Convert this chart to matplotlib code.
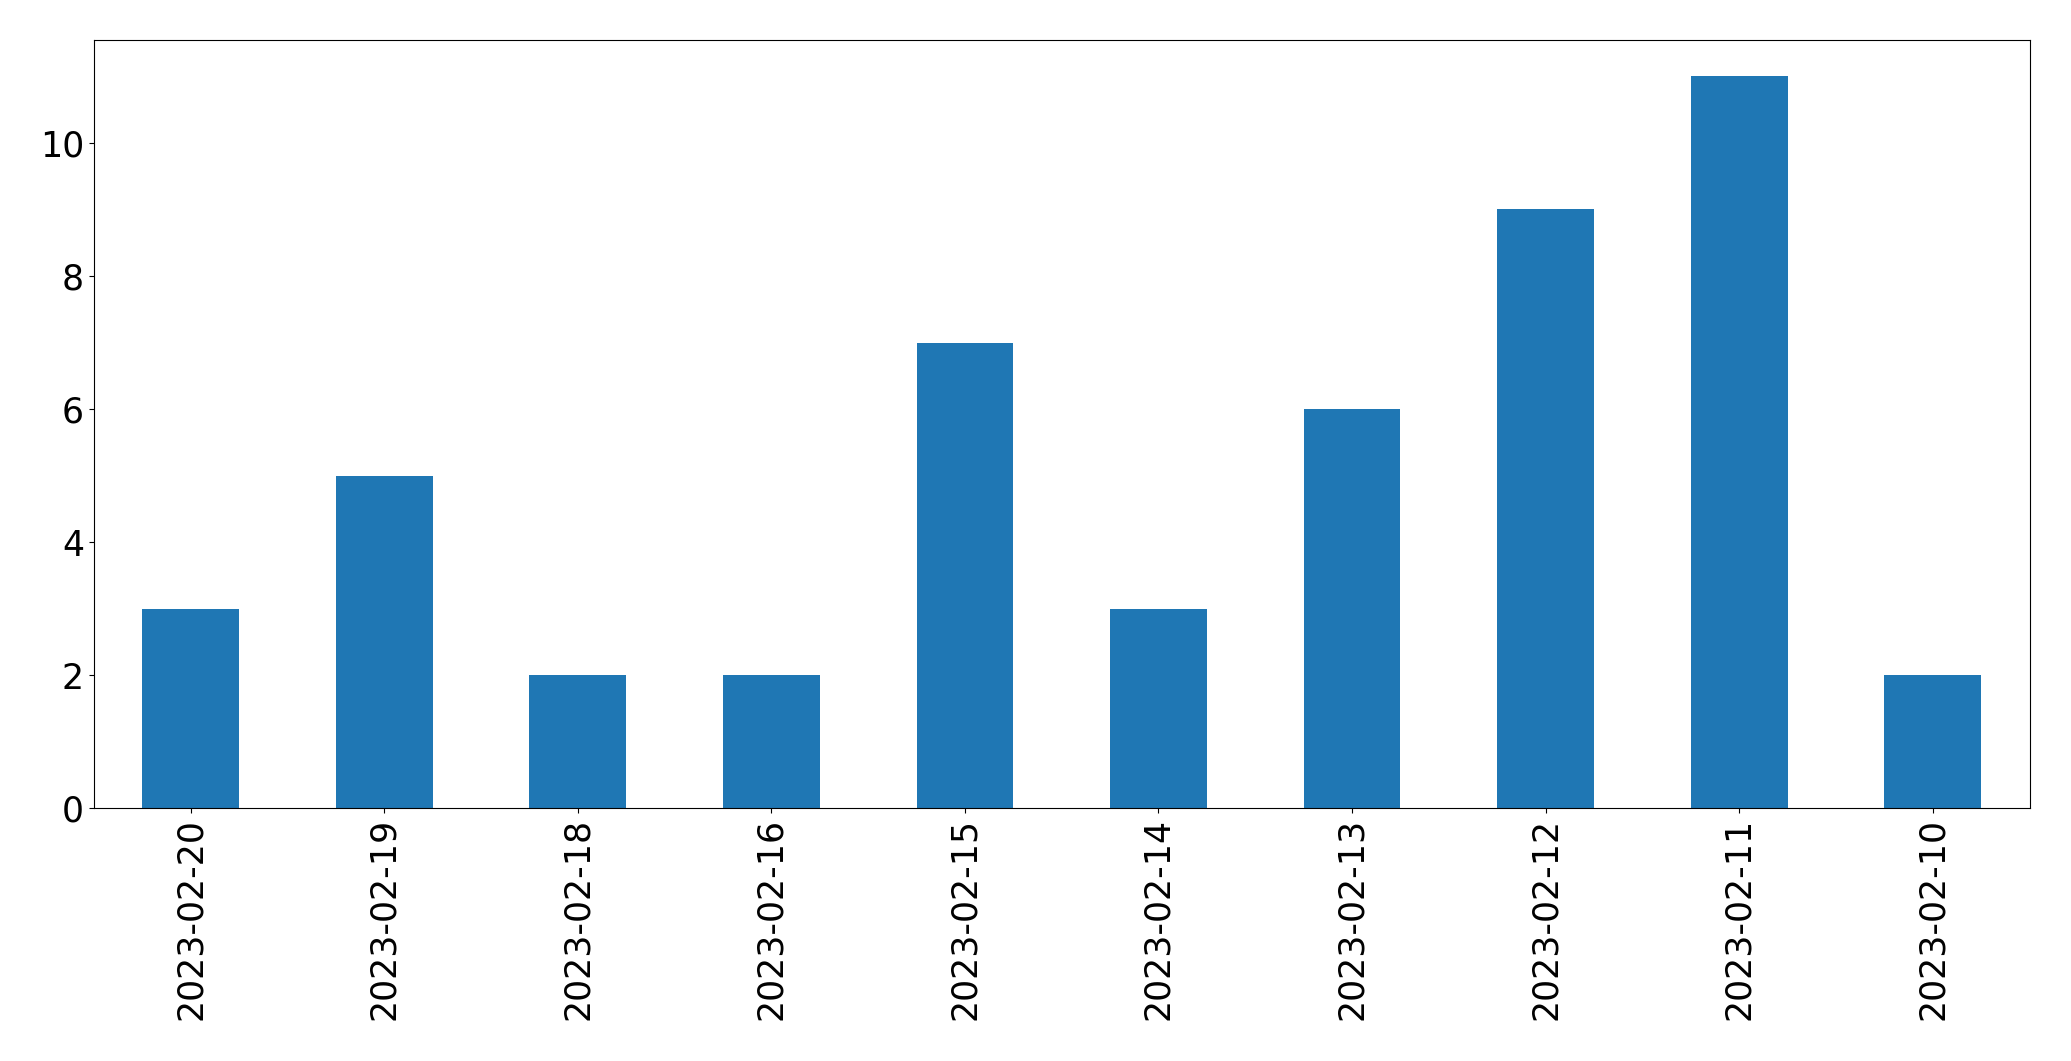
import matplotlib
matplotlib.use("Agg")
import matplotlib.pyplot as plt
import numpy as np

# Datos
fechas = ["2023-02-20", "2023-02-19", "2023-02-18", "2023-02-16", "2023-02-15",
          "2023-02-14", "2023-02-13", "2023-02-12", "2023-02-11", "2023-02-10"]
conteos = [3, 5, 2, 2, 7, 3, 6, 9, 11, 2]

fig = plt.figure(figsize=(20.71, 10.61), dpi=100)
ax = fig.add_axes([0.0453, 0.238, 0.9347, 0.7246])

x = np.arange(len(fechas))
ax.bar(x, conteos, width=0.5, color="#1f77b4")
ax.set_xlim(-0.5, len(fechas) - 0.5)
ax.set_ylim(0, 11.55)

ax.set_xticks(x)
ax.set_xticklabels(fechas, rotation=90)
ax.tick_params(axis="both", labelsize=25)

fig.savefig("out.png", dpi=100)
